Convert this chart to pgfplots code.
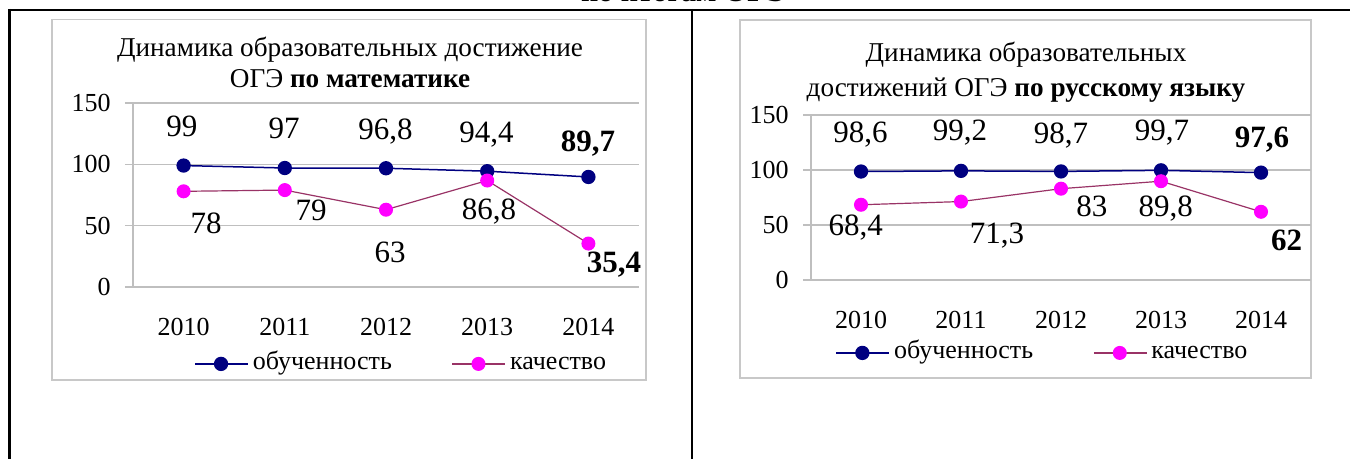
\documentclass[border=0pt]{standalone}
\usepackage{fontspec}
\setmainfont{Liberation Serif}
\usepackage{pgfplots}
\usepackage{pgfplotstable}
\pgfplotsset{compat=1.18}
\definecolor{obnavy}{RGB}{0,0,128}
\definecolor{kachline}{RGB}{153,51,102}
\definecolor{kachmark}{RGB}{255,0,255}
\definecolor{gridgray}{RGB}{191,191,191}
\definecolor{boxgray}{RGB}{200,200,200}

% x = category index, y = value, lab = data label, dx/dy = label offset (pt)
\pgfplotstableread{
x y lab dx dy
0 99 99 -0.8 19.8
1 97 97 -0.4 20
2 96.8 96,8 -0.2 19.6
3 94.4 94,4 -0.3 19.6
4 89.7 \textbf{89,7} -0.2 18
}\mathObuch
\pgfplotstableread{
x y lab dx dy
0 78 78 11.2 -15.9
1 79 79 13.1 -10
2 63 63 2 -21.2
3 86.8 86,8 0.9 -14.5
4 35.4 \textbf{35,4} 12.8 -9.2
}\mathKach
\pgfplotstableread{
x y lab dx dy
0 98.6 98,6 -0.3 19.5
1 99.2 99,2 -0.5 20.2
2 98.7 98,7 0 18.9
3 99.7 99,7 0.5 20
4 97.6 \textbf{97,6} 0.5 17.8
}\rusObuch
\pgfplotstableread{
x y lab dx dy
0 68.4 68,4 -2.6 -10.4
1 71.3 71,3 18 -16
2 83 83 15.4 -8.6
3 89.8 89,8 2.4 -12.3
4 62 \textbf{62} 12.8 -14.2
}\rusKach

\newcommand{\lblfont}{\fontsize{15.5pt}{18pt}\selectfont}
\newcommand{\tickfont}{\fontsize{13pt}{15pt}\selectfont}
\newcommand{\titlefont}{\fontsize{13.6pt}{16pt}\selectfont}

\pgfplotsset{
  ogestyle/.style={
    scale only axis,
    clip=false,
    /pgf/number format/assume math mode=true,
    xmin=-0.5, xmax=4.5, ymin=0, ymax=150,
    axis lines*=left,
    axis line style={gridgray, line width=0.6pt},
    tick align=outside,
    major tick length=4pt,
    xtick={0,1,2,3,4},
    xticklabels={2010,2011,2012,2013,2014},
    xtick style={draw=none},
    extra x ticks={-0.5,0.5,1.5,2.5,3.5,4.5},
    extra x tick labels={},
    extra x tick style={grid=none, tick style={draw=gridgray, line width=0.6pt}},
    ytick={0,50,100,150},
    ytick style={draw=gridgray, line width=0.6pt},
    ymajorgrids,
    major grid style={gridgray, line width=0.6pt},
    ticklabel style={font=\tickfont, text depth=0pt},
    xticklabel style={anchor=center, yshift=-16pt},
    yticklabel style={anchor=east, inner sep=0pt, xshift=-7pt},
    legend columns=2,
    legend cell align=left,
    legend image code/.code={
      \draw[mark repeat=2,mark phase=2,##1] plot coordinates {(0pt,0pt) (13pt,0pt) (26.5pt,0pt)};
    },
    nodes near coords,
    point meta=explicit symbolic,
    every node near coord/.append style={font=\lblfont, color=black, anchor=center, text depth=0pt,
      xshift=\dx pt, yshift=\dy pt},
  },
  oglegend/.style={draw=none, fill=none, font=\tickfont,
    nodes={text height=9pt, text depth=3pt},
    /tikz/every even column/.append style={column sep=28pt}},
  obuch/.style={color=obnavy, line width=0.75pt, mark=*, mark size=3.2pt,
    mark options={fill=obnavy, draw=obnavy, solid}},
  kach/.style={color=kachline, line width=0.6pt, mark=*, mark size=3.2pt,
    mark options={fill=kachmark, draw=kachmark, solid}},
}

\begin{document}
\begin{tikzpicture}
\useasboundingbox (0,0) rectangle (675pt,229.5pt);
% page frame
\draw[black, line width=1.35pt] (4.5pt,224.5pt) -- (675pt,224.5pt);
\draw[black, line width=1.5pt] (4.5pt,225pt) -- (4.5pt,0pt);
\draw[black, line width=1.2pt] (346pt,225pt) -- (346pt,0pt);
\node[anchor=base, font=\fontsize{15pt}{18pt}\selectfont\bfseries, inner sep=0pt] at (342pt,228.5pt) {по итогам ОГЭ};
% chart boxes
\draw[boxgray, line width=0.7pt] (26pt,39.5pt) rectangle (323pt,219.8pt);
\draw[boxgray, line width=0.7pt] (370pt,40.5pt) rectangle (655.5pt,219.5pt);
% titles
\node[anchor=base, inner sep=0pt, font=\titlefont] at (175pt,201pt) {Динамика образовательных достижение};
\node[anchor=base, inner sep=0pt, font=\titlefont] at (175pt,185.5pt) {ОГЭ \textbf{по математике}};
\node[anchor=base, inner sep=0pt, font=\titlefont] at (513pt,198.5pt) {Динамика образовательных};
\node[anchor=base, inner sep=0pt, font=\titlefont] at (513pt,181pt) {достижений ОГЭ \textbf{по русскому языку}};

\begin{axis}[ogestyle, at={(66.5pt,86pt)}, anchor=south west, width=253pt, height=92pt,
  legend style={oglegend, at={(axis description cs:0.532,-0.418)}, anchor=center}]
\addplot[obuch, visualization depends on={\thisrow{dx} \as \dx}, visualization depends on={\thisrow{dy} \as \dy}]
  table[x=x, y=y, meta=lab] {\mathObuch};
\addlegendentry{обученность}
\addplot[kach, visualization depends on={\thisrow{dx} \as \dx}, visualization depends on={\thisrow{dy} \as \dy}]
  table[x=x, y=y, meta=lab] {\mathKach};
\addlegendentry{качество}
\end{axis}

\begin{axis}[ogestyle, at={(405.5pt,89.5pt)}, anchor=south west, width=250pt, height=82.5pt,
  legend style={oglegend, at={(axis description cs:0.465,-0.442)}, anchor=center}]
\addplot[obuch, visualization depends on={\thisrow{dx} \as \dx}, visualization depends on={\thisrow{dy} \as \dy}]
  table[x=x, y=y, meta=lab] {\rusObuch};
\addlegendentry{обученность}
\addplot[kach, visualization depends on={\thisrow{dx} \as \dx}, visualization depends on={\thisrow{dy} \as \dy}]
  table[x=x, y=y, meta=lab] {\rusKach};
\addlegendentry{качество}
\end{axis}
\end{tikzpicture}
\end{document}
